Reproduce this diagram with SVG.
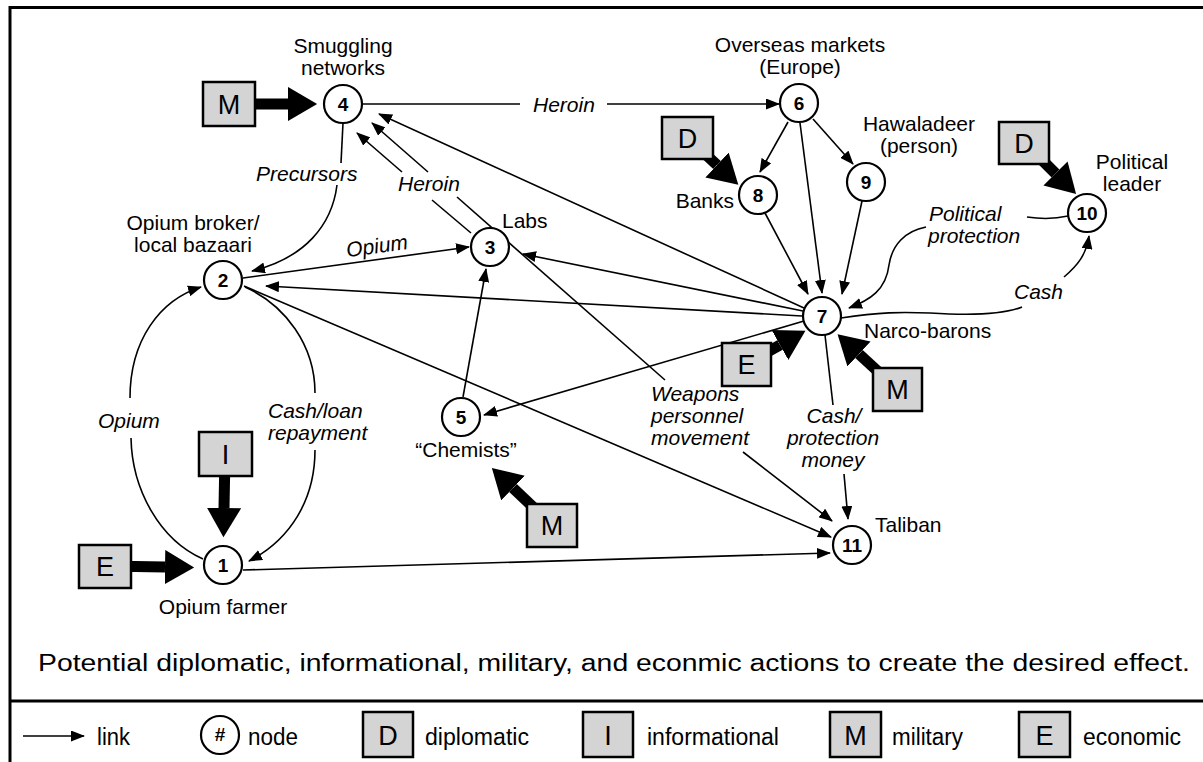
<svg xmlns="http://www.w3.org/2000/svg" width="1203" height="762" viewBox="0 0 1203 762">
<defs>
<style>
text{font-family:"Liberation Sans",Arial,sans-serif;fill:#000}
.lb{font-size:21px}
.it{font-size:21px;font-style:italic}
.num{font-size:19px;font-weight:bold;text-anchor:middle}
.mid{text-anchor:middle}
.nd{fill:#fff;stroke:#000;stroke-width:2.2}
.bx{fill:#d4d4d4;stroke:#000;stroke-width:2.5}
.bl{font-size:27px;text-anchor:middle}
.c{fill:none;stroke:#000;stroke-width:1.6}
.ca{fill:none;stroke:#000;stroke-width:1.6;marker-end:url(#ah)}
.tk{fill:none;stroke:#000;stroke-width:11;marker-end:url(#th)}
.fr{fill:none;stroke:#000;stroke-width:3}
.lg{font-size:23px}
</style>
<marker id="ah" markerUnits="userSpaceOnUse" viewBox="0 0 14 11" markerWidth="14" markerHeight="11" refX="13" refY="5.5" orient="auto"><path d="M0,0 L14,5.5 L0,11 z" fill="#000"/></marker>
<marker id="th" markerUnits="strokeWidth" viewBox="0 0 2.7 3.1" markerWidth="2.7" markerHeight="3.1" refX="0" refY="1.55" orient="auto"><path d="M0,0 L2.65,1.55 L0,3.1 z" fill="#000"/></marker>
</defs>
<rect x="0" y="0" width="1203" height="762" fill="#fff"/>
<g id="frame">
<path class="fr" d="M10,762 V7.5 H1203"/>
<path class="fr" d="M10,701 H1203"/>
</g>
<g id="connectors">
<path class="c" d="M362,104 L520,104"/>
<path class="ca" d="M607,104 L779,104"/>
<path class="ca" d="M788,122 L760,172"/>
<path class="ca" d="M813,119 L853,164"/>
<path class="ca" d="M800,123 L822,293"/>
<path class="ca" d="M765,213 L808,294"/>
<path class="ca" d="M862,201 L842,294"/>
<path class="ca" d="M804,308 L379,114"/>
<path class="ca" d="M803,311 L523,254"/>
<path class="ca" d="M802,316 L266,286"/>
<path class="ca" d="M804,321 L484,415"/>
<path class="c" d="M471,233 L432,200"/>
<path class="ca" d="M402,172 L357,133"/>
<path class="c" d="M665,380 L457,197"/>
<path class="ca" d="M428,172 L372,123"/>
<path class="ca" d="M743,452 L832,521"/>
<path class="c" d="M343,123 L341,163"/>
<path class="ca" d="M337,185 C332,225 305,258 252,271"/>
<path class="ca" d="M243,278 L469,247"/>
<path class="ca" d="M463,397 L486,269"/>
<path class="c" d="M203,559 C160,540 132,490 131,438"/>
<path class="ca" d="M130,398 C130,340 160,300 201,287"/>
<path class="c" d="M245,287 C285,305 315,345 315,393"/>
<path class="ca" d="M315,450 C315,500 290,540 249,561"/>
<path class="ca" d="M243,570 L830,553"/>
<path class="ca" d="M244,286 L831,537"/>
<path class="c" d="M825,335 L833,405"/>
<path class="ca" d="M844,474 L848,519"/>
<path class="c" d="M1068,216 C1055,219 1040,219 1027,217"/>
<path class="ca" d="M926,227 C905,231 892,245 889,265 C886,290 870,300 849,308"/>
<path class="c" d="M841,318 C880,312 900,312 930,313 C960,315 1000,316 1022,307"/>
<path class="ca" d="M1064,277 C1078,265 1086,255 1089,236"/>
<path class="tk" d="M229,104 L288,104"/>
<path class="tk" d="M688,138 L717,165"/>
<path class="tk" d="M1024,142 L1055.5,173.5"/>
<path class="tk" d="M746,364 L780,345"/>
<path class="tk" d="M897,389 L859,354"/>
<path class="tk" d="M552,525 L513,488"/>
<path class="tk" d="M225,454 L224,508"/>
<path class="tk" d="M105,566 L165,567"/>
</g>
<g id="link-labels">
<text class="it" x="533" y="112">Heroin</text>
<text class="it" x="398" y="191">Heroin</text>
<text class="it" x="256" y="181">Precursors</text>
<text class="it mid" x="378" y="253" transform="rotate(-8 378 253)">Opium</text>
<text class="it" x="98" y="428">Opium</text>
<text class="it" x="268" y="418">Cash/loan</text>
<text class="it" x="268" y="440">repayment</text>
<text class="it" x="651" y="401">Weapons</text>
<text class="it" x="651" y="423">personnel</text>
<text class="it" x="651" y="445">movement</text>
<text class="it mid" x="834" y="423">Cash/</text>
<text class="it mid" x="833" y="445">protection</text>
<text class="it mid" x="833" y="467">money</text>
<text class="it" x="929" y="221">Political</text>
<text class="it" x="928" y="243">protection</text>
<text class="it" x="1014" y="299">Cash</text>
</g>
<g id="n1"><circle class="nd" cx="223" cy="565" r="19"/><text class="num" x="223" y="572">1</text><text class="lb mid" x="223" y="614">Opium farmer</text></g>
<g id="n2"><circle class="nd" cx="223" cy="280" r="19"/><text class="num" x="223" y="287">2</text><text class="lb mid" x="193" y="230">Opium broker/</text><text class="lb mid" x="193" y="252">local bazaari</text></g>
<g id="n3"><circle class="nd" cx="490" cy="247" r="19"/><text class="num" x="490" y="254">3</text><text class="lb" x="502" y="228">Labs</text></g>
<g id="n4"><circle class="nd" cx="343" cy="104" r="19"/><text class="num" x="343" y="111">4</text><text class="lb mid" x="343" y="53">Smuggling</text><text class="lb mid" x="343" y="75">networks</text></g>
<g id="n5"><circle class="nd" cx="461" cy="417" r="19"/><text class="num" x="461" y="424">5</text><text class="lb mid" x="466" y="457">“Chemists”</text></g>
<g id="n6"><circle class="nd" cx="799" cy="103" r="19"/><text class="num" x="799" y="110">6</text><text class="lb mid" x="800" y="52">Overseas markets</text><text class="lb mid" x="800" y="74">(Europe)</text></g>
<g id="n7"><circle class="nd" cx="822" cy="316" r="19"/><text class="num" x="822" y="323">7</text><text class="lb" x="864" y="338">Narco-barons</text></g>
<g id="n8"><circle class="nd" cx="758" cy="195" r="19"/><text class="num" x="758" y="202">8</text><text class="lb" x="734" y="208" text-anchor="end">Banks</text></g>
<g id="n9"><circle class="nd" cx="866" cy="182" r="19"/><text class="num" x="866" y="189">9</text><text class="lb mid" x="919" y="131">Hawaladeer</text><text class="lb mid" x="919" y="153">(person)</text></g>
<g id="n10"><circle class="nd" cx="1087" cy="213" r="19"/><text class="num" x="1087" y="220" font-size="18">10</text><text class="lb mid" x="1132" y="169">Political</text><text class="lb mid" x="1132" y="191">leader</text></g>
<g id="n11"><circle class="nd" cx="852" cy="545" r="19"/><text class="num" x="852" y="552" font-size="18">11</text><text class="lb" x="875" y="532">Taliban</text></g>
<g id="a-m4"><rect class="bx" x="203" y="82" width="52" height="44"/><text class="bl" x="229" y="114">M</text></g>
<g id="a-d8"><rect class="bx" x="662" y="117" width="51" height="42"/><text class="bl" x="687.5" y="148">D</text></g>
<g id="a-d10"><rect class="bx" x="999" y="122" width="50" height="42"/><text class="bl" x="1024" y="153">D</text></g>
<g id="a-e7"><rect class="bx" x="722" y="343" width="49" height="43"/><text class="bl" x="746.5" y="374">E</text></g>
<g id="a-m7"><rect class="bx" x="873" y="368" width="49" height="43"/><text class="bl" x="897.5" y="399">M</text></g>
<g id="a-m5"><rect class="bx" x="527" y="504" width="50" height="43"/><text class="bl" x="552" y="535">M</text></g>
<g id="a-i1"><rect class="bx" x="199" y="432" width="53" height="44"/><text class="bl" x="225.5" y="464">I</text></g>
<g id="a-e1"><rect class="bx" x="79" y="545" width="52" height="43"/><text class="bl" x="105" y="576">E</text></g>
<g id="caption"><text x="38" y="671" font-size="23" textLength="1152" lengthAdjust="spacingAndGlyphs">Potential diplomatic, informational, military, and econmic actions to create the desired effect.</text></g>
<g id="legend">
<path class="ca" d="M23,736 L84,736"/>
<text class="lg" x="97" y="745" textLength="33" lengthAdjust="spacingAndGlyphs">link</text>
<circle class="nd" cx="220" cy="735" r="19"/>
<text class="num" x="220" y="741" font-size="17">#</text>
<text class="lg" x="248" y="745" textLength="50" lengthAdjust="spacingAndGlyphs">node</text>
<rect class="bx" x="363" y="712" width="50" height="45"/><text class="bl" x="388" y="745">D</text>
<text class="lg" x="425" y="745" textLength="104" lengthAdjust="spacingAndGlyphs">diplomatic</text>
<rect class="bx" x="583" y="712" width="50" height="45"/><text class="bl" x="608" y="745">I</text>
<text class="lg" x="647" y="745" textLength="132" lengthAdjust="spacingAndGlyphs">informational</text>
<rect class="bx" x="830" y="712" width="51" height="45"/><text class="bl" x="855.5" y="745">M</text>
<text class="lg" x="892" y="745" textLength="71" lengthAdjust="spacingAndGlyphs">military</text>
<rect class="bx" x="1019" y="712" width="51" height="45"/><text class="bl" x="1044.5" y="745">E</text>
<text class="lg" x="1083" y="745" textLength="98" lengthAdjust="spacingAndGlyphs">economic</text>
</g>
</svg>
